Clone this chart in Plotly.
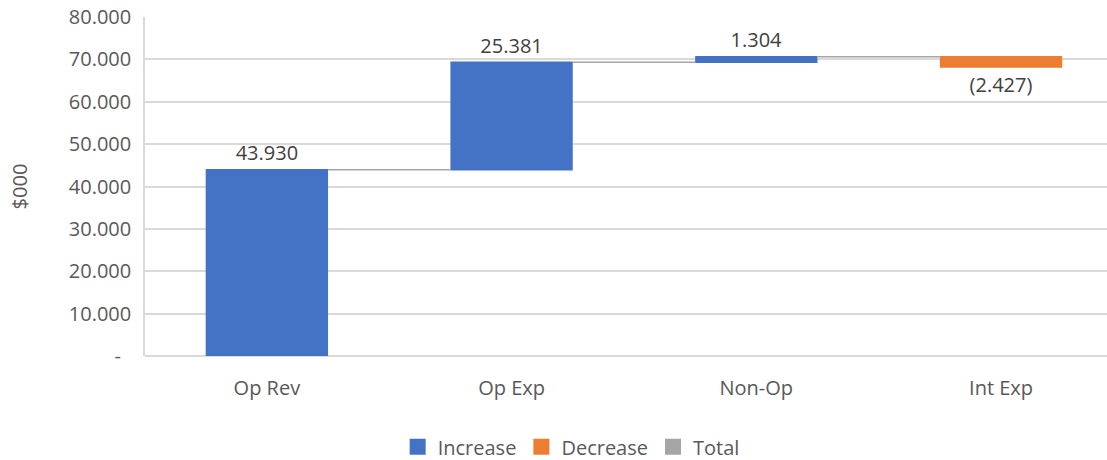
import plotly.graph_objects as go

# Waterfall steps (values in $000)
categories = ["Op Rev", "Op Exp", "Non-Op", "Int Exp"]
values = [43930, 25381, 1304, -2427]

# Y-axis ticks in accounting style (dot as thousands separator, dash for zero)
tick_values = [0, 10000, 20000, 30000, 40000, 50000, 60000, 70000, 80000]
tick_labels = ["-\u00a0\u00a0", "10.000", "20.000", "30.000", "40.000",
               "50.000", "60.000", "70.000", "80.000"]

legend_names = ["Increase", "Decrease", "Total"]
legend_colors = ["#4472C4", "#ED7D31", "#A5A5A5"]


def fmt(v):
    s = f"{abs(v):,}".replace(",", ".")
    return f"({s})" if v < 0 else s


font_family = "Open Sans"
text_color = "#595959"

fig = go.Figure()

fig.add_trace(go.Waterfall(
    x=categories,
    y=values,
    measure=["relative"] * len(values),
    text=[fmt(v) for v in values],
    textposition="outside",
    textfont=dict(family=font_family, size=20, color="#404040"),
    width=0.5,
    increasing=dict(marker=dict(color="#4472C4")),
    decreasing=dict(marker=dict(color="#ED7D31")),
    totals=dict(marker=dict(color="#A5A5A5")),
    connector=dict(mode="between", line=dict(color="#A6A6A6", width=1.5)),
    showlegend=False,
    cliponaxis=False,
    hoverinfo="skip",
))

# Legend entries
for name, color in zip(legend_names, legend_colors):
    fig.add_trace(go.Scatter(
        x=[None], y=[None], mode="markers", name=name,
        marker=dict(symbol="square", size=16, color=color),
    ))

fig.update_layout(
    width=1107,
    height=460,
    margin=dict(l=145, r=0, t=17, b=104, autoexpand=False),
    paper_bgcolor="white",
    plot_bgcolor="white",
    font=dict(family=font_family, size=20, color=text_color),
    showlegend=True,
    legend=dict(
        orientation="h",
        x=0.443, xanchor="center",
        y=-0.268, yanchor="middle",
        font=dict(family=font_family, size=20, color=text_color),
        itemsizing="trace",
        tracegroupgap=0,
    ),
    xaxis=dict(
        range=[-0.498, 3.433],
        showgrid=False,
        showline=False,
        ticks="",
        ticklabelstandoff=18,
        tickfont=dict(size=20, color=text_color),
    ),
    yaxis=dict(
        range=[0, 80000],
        tickvals=tick_values,
        ticktext=tick_labels,
        showgrid=True,
        gridcolor="#D9D9D9",
        gridwidth=1.5,
        showline=True,
        linecolor="#D9D9D9",
        linewidth=1.5,
        zeroline=True,
        zerolinecolor="#D9D9D9",
        zerolinewidth=1.5,
        ticks="",
        ticklabelstandoff=8,
        tickfont=dict(size=20, color=text_color),
        title=dict(text="$000", font=dict(size=20, color=text_color), standoff=36),
    ),
)

fig.write_html("out.html")
